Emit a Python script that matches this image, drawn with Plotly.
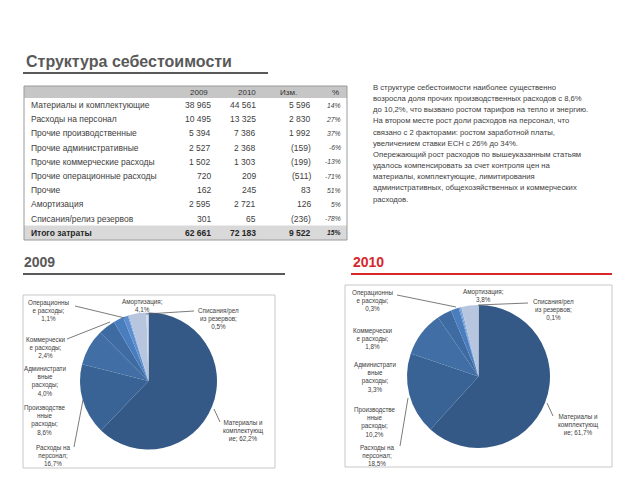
import plotly.graph_objects as go

W, H = 640, 480
def px(x): return x / W
def py(y): return 1 - y / H

# ---------------- data ----------------
title = "Структура себестоимости"
col_headers = ["2009", "2010", "Изм.", "%"]
items = ["Материалы и комплектующие", "Расходы на персонал", "Прочие производственные",
         "Прочие административные", "Прочие коммерческие расходы", "Прочие операционные расходы",
         "Прочие", "Амортизация", "Списания/релиз резервов"]
total_label = "Итого затраты"
v2009 = [38965, 10495, 5394, 2527, 1502, 720, 162, 2595, 301]
v2010 = [44561, 13325, 7386, 2368, 1303, 209, 245, 2721, 65]

pie_label_tpl = ["Материалы и<br>комплектующ<br>ие; {p}", "Расходы на<br>персонал;<br>{p}",
                 "Производстве<br>нные<br>расходы;<br>{p}", "Администрати<br>вные<br>расходы;<br>{p}",
                 "Коммерчески<br>е расходы;<br>{p}", "Операционны<br>е расходы;<br>{p}",
                 None, "Амортизация;<br>{p}", "Списания/рел<br>из резервов;<br>{p}"]
pie_colors = ["#355987", "#3a6395", "#416ea5", "#3f6ba3", "#4a7dbd", "#5b8fd0",
              "#7fa6d8", "#b7c6de", "#d3dcea"]

comment_lines = [
    "В структуре себестоимости наиболее существенно",
    "возросла доля прочих производственных расходов с 8,6%",
    "до 10,2%, что вызвано ростом тарифов на тепло и энергию.",
    "На втором месте рост доли расходов на персонал, что",
    "связано с 2 факторами: ростом заработной платы,",
    "увеличением ставки ЕСН с 26% до 34%.",
    "Опережающий рост расходов по вышеуказанным статьям",
    "удалось компенсировать за счет контроля цен на",
    "материалы, комплектующие, лимитирования",
    "административных, общехозяйственных и коммерческих",
    "расходов.",
]

# ---------------- helpers ----------------
NBSP = "\u00a0"
def fmt_num(v):
    s = f"{abs(v):,}".replace(",", NBSP)
    return f"({s})" if v < 0 else s

def fmt_pct1(v):
    return f"{v:.1f}%".replace(".", ",")

t09, t10 = sum(v2009), sum(v2010)
chg = [b - a for a, b in zip(v2009, v2010)]
pct = [round(c / a * 100) for c, a in zip(chg, v2009)]
tchg = t10 - t09
tpct = round(tchg / t09 * 100)

rows = [(items[i], fmt_num(v2009[i]), fmt_num(v2010[i]), fmt_num(chg[i]), f"{pct[i]}%")
        for i in range(len(items))]
rows.append((total_label, fmt_num(t09), fmt_num(t10), fmt_num(tchg), f"{tpct}%"))

fig = go.Figure()

pies = [
    (v2009, (148.5, 381, 68.5)),
    (v2010, (478.5, 376.5, 71.5)),
]
for vals, (cx, cy, r) in pies:
    fig.add_trace(go.Pie(
        values=vals, labels=items, sort=False, direction="clockwise", rotation=0,
        marker=dict(colors=pie_colors, line=dict(width=0)),
        textinfo="none", hoverinfo="label+percent", showlegend=False,
        domain=dict(x=[px(cx - r), px(cx + r)], y=[py(cy + r), py(cy - r)]),
    ))

FONT = "Arial, Liberation Sans"
annotations = []
shapes = []

# ---------- table (text cells as annotations) ----------
TBL_L, TBL_R, TBL_T, TBL_B = 24, 347, 86, 240
HDR_B = 98
ROW0, ROWH = 105, 14.2
name_x = 30
col_right = [212, 257, 312, 342]
hdr_center = [199, 247, 288, 335]

shapes += [
    dict(type="rect", xref="paper", yref="paper", x0=px(TBL_L), x1=px(TBL_R),
         y0=py(HDR_B), y1=py(TBL_T), fillcolor="#c6c6c6", line=dict(width=0), layer="below"),
    dict(type="rect", xref="paper", yref="paper", x0=px(TBL_L), x1=px(TBL_R),
         y0=py(TBL_B), y1=py(ROW0 + (len(rows) - 1) * ROWH - 7.2),
         fillcolor="#d9d9d9", line=dict(width=0), layer="below"),
    dict(type="rect", xref="paper", yref="paper", x0=px(TBL_L), x1=px(TBL_R),
         y0=py(TBL_B), y1=py(TBL_T), line=dict(color="#9a9a9a", width=1)),
]
for j, h in enumerate(col_headers):
    annotations.append(dict(text=h, x=px(hdr_center[j]), y=py(92), xref="paper", yref="paper",
                            showarrow=False, xanchor="center", yanchor="middle", borderpad=0,
                            font=dict(family=FONT, size=8, color="#333333")))
for i, row in enumerate(rows):
    y = py(ROW0 + i * ROWH)
    is_total = i == len(rows) - 1
    def wrap(s, italic=False):
        if italic:
            s = f"<i>{s}</i>"
        return f"<b>{s}</b>" if is_total else s
    col = "#262626" if is_total else "#404040"
    annotations.append(dict(text=wrap(row[0]), x=px(name_x), y=y, xref="paper", yref="paper",
                            showarrow=False, xanchor="left", yanchor="middle", borderpad=0,
                            font=dict(family=FONT, size=8.5, color=col)))
    for j in range(4):
        annotations.append(dict(text=wrap(row[j + 1], italic=(j == 3)), x=px(col_right[j]), y=y,
                                xref="paper", yref="paper", showarrow=False,
                                xanchor="right", yanchor="middle", borderpad=0,
                                font=dict(family=FONT, size=6.8 if j == 3 else 8.5, color=col)))

# ---------- pie labels ----------
label_pos = [
    {0: (243, 430), 1: (53, 455), 2: (45, 419.5), 3: (45, 380.5), 4: (45, 347),
     5: (48, 310), 7: (142, 305.5), 8: (218, 318.5)},
    {0: (578, 424), 1: (377, 455), 2: (375, 422), 3: (375, 377), 4: (372, 338),
     5: (372, 300.5), 7: (483, 295.5), 8: (553, 309.5)},
]
leaders = [
    [[(75, 306), (125, 318)], [(67, 339), (110, 322)], [(194, 311), (146, 314)],
     [(74, 447), (83, 400)], [(220, 422), (214, 409)]],
    [[(397, 295), (456, 307)], [(528, 303), (478, 305)],
     [(400, 446), (408, 398)], [(553, 416), (547, 403)]],
]
for k, vals in enumerate([v2009, v2010]):
    tot = sum(vals)
    for i, tpl in enumerate(pie_label_tpl):
        if tpl is None:
            continue
        x, y = label_pos[k][i]
        annotations.append(dict(
            text=tpl.format(p=fmt_pct1(vals[i] / tot * 100)), x=px(x), y=py(y),
            xref="paper", yref="paper", showarrow=False, align="center",
            xanchor="center", yanchor="middle", borderpad=0,
            font=dict(family=FONT, size=6.3, color="#404040")))
    for (x0, y0), (x1, y1) in leaders[k]:
        shapes.append(dict(type="line", xref="paper", yref="paper",
                           x0=px(x0), y0=py(y0), x1=px(x1), y1=py(y1),
                           line=dict(color="#595959", width=0.8)))

# ---------- titles ----------
annotations += [
    dict(text=f"<b>{title}</b>", x=px(24), y=py(62), xref="paper", yref="paper",
         showarrow=False, xanchor="left", yanchor="middle",
         font=dict(family=FONT, size=16, color="#595959")),
    dict(text="<b>2009</b>", x=px(22), y=py(262), xref="paper", yref="paper",
         showarrow=False, xanchor="left", yanchor="middle",
         font=dict(family=FONT, size=14, color="#595959")),
    dict(text="<b>2010</b>", x=px(351), y=py(262), xref="paper", yref="paper",
         showarrow=False, xanchor="left", yanchor="middle",
         font=dict(family=FONT, size=14, color="#d7262c")),
]
for j, line in enumerate(comment_lines):
    annotations.append(dict(
        text=line, x=px(372), y=py(87.5 + j * 11.15), xref="paper", yref="paper",
        showarrow=False, xanchor="left", yanchor="middle", align="left", borderpad=0,
        font=dict(family=FONT, size=7.7, color="#404040")))

# ---------- decorative lines / frames ----------
shapes += [
    dict(type="line", xref="paper", yref="paper", x0=px(23), x1=px(268), y0=py(73), y1=py(73),
         line=dict(color="#595959", width=2)),
    dict(type="line", xref="paper", yref="paper", x0=px(23), x1=px(285), y0=py(274), y1=py(274),
         line=dict(color="#595959", width=2)),
    dict(type="line", xref="paper", yref="paper", x0=px(351), x1=px(612), y0=py(274), y1=py(274),
         line=dict(color="#d7262c", width=2)),
    dict(type="rect", xref="paper", yref="paper", x0=px(23), x1=px(275), y0=py(468), y1=py(295),
         line=dict(color="#c8c8c8", width=1)),
    dict(type="rect", xref="paper", yref="paper", x0=px(345), x1=px(612), y0=py(467), y1=py(285),
         line=dict(color="#c8c8c8", width=1)),
]

fig.update_layout(width=W, height=H, margin=dict(l=0, r=0, t=0, b=0),
                  paper_bgcolor="white", plot_bgcolor="white",
                  annotations=annotations, shapes=shapes)

fig.write_html("out.html")
